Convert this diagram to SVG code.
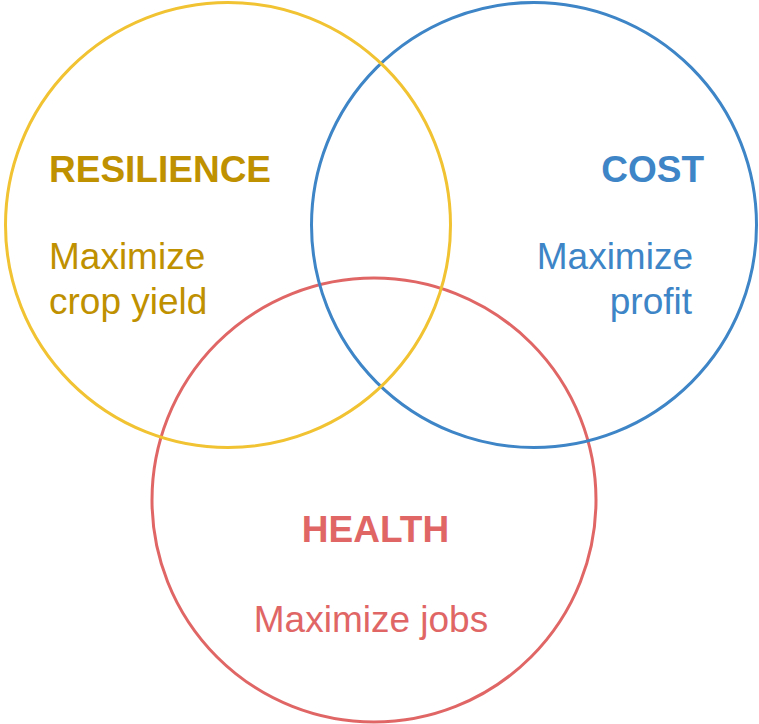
<svg xmlns="http://www.w3.org/2000/svg" width="759" height="724" viewBox="0 0 759 724">
<style>
circle{fill:none;stroke-width:3}
text{font-family:"Liberation Sans",Arial,sans-serif;font-size:37px}
.h{font-weight:bold}
.y{fill:#bf9000}
.b{fill:#3d85c6}
.r{fill:#e06666}
</style>
<rect width="759" height="724" fill="#ffffff"/>
<g id="health">
<circle cx="374" cy="500" r="222" stroke="#e06666"/>
<text class="h r" x="375.5" y="542" text-anchor="middle">HEALTH</text>
<text class="r" x="371" y="632" text-anchor="middle">Maximize jobs</text>
</g>
<g id="cost">
<circle cx="534" cy="225" r="222.5" stroke="#3d85c6"/>
<text class="h b" x="704" y="182" text-anchor="end">COST</text>
<text class="b" x="693" y="269" text-anchor="end">Maximize</text>
<text class="b" x="692" y="314" text-anchor="end">profit</text>
</g>
<g id="resilience">
<circle cx="228" cy="225" r="222.5" stroke="#f1c232"/>
<text class="h y" x="49" y="182">RESILIENCE</text>
<text class="y" x="49" y="269">Maximize</text>
<text class="y" x="49" y="314">crop yield</text>
</g>
<g id="connectors"/>
</svg>
